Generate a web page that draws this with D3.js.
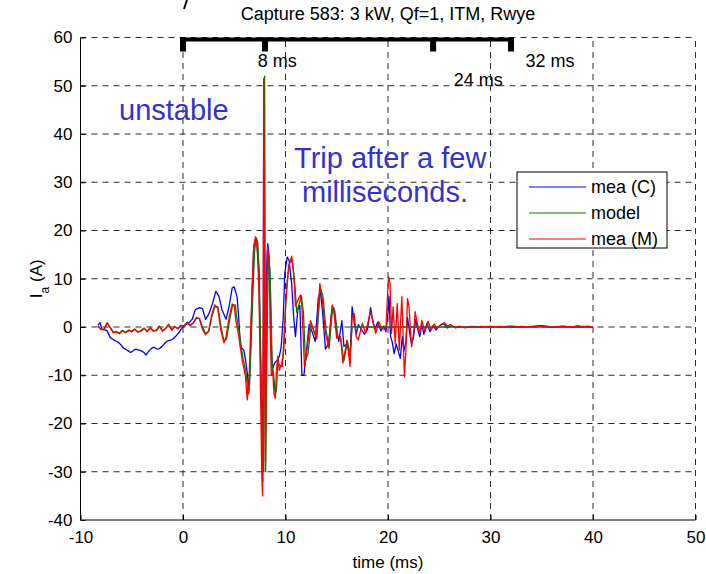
<!DOCTYPE html>
<html>
<head>
<meta charset="utf-8">
<script src="https://cdn.jsdelivr.net/npm/d3@7"></script>
<style>
  html, body { margin: 0; padding: 0; background: #fff; }
  svg { display: block; font-family: "Liberation Sans", Arial, sans-serif; }
</style>
</head>
<body>
<svg id="chart" width="706" height="574"></svg>
<script>
// ---------------- DATA ----------------
const chartTitle = "Capture 583: 3 kW, Qf=1, ITM, Rwye";
const xTicks = [-10, 0, 10, 20, 30, 40, 50];
const yTicks = [-40, -30, -20, -10, 0, 10, 20, 30, 40, 50, 60];
const seriesNames = ["mea (C)", "model", "mea (M)"];
const seriesColors = ["#0000ff", "#008000", "#ff0000"];

// mea (C) - blue
const timeMeaC = [-8.3,-8.1,-7.9,-7.6,-7.4,-7.1,-6.8,-6.6,-6.3,-6.1,-5.8,-5.6,-5.3,-5.1,-4.8,-4.6,-4.3,-4.1,-3.8,-3.6,-3.3,-3.0,-2.8,-2.5,-2.3,-2.0,-1.7,-1.5,-1.2,-1.0,-0.7,-0.4,-0.2,0,0.3,0.6,0.9,1.2,1.6,1.9,2.2,2.5,2.9,3.2,3.5,3.8,4.2,4.5,4.8,5.0,5.28,5.45,5.6,5.93,6.1,6.3,6.42,6.58,6.75,6.9,7.05,7.17,7.4,7.55,7.7,7.78,7.84,7.88,7.93,8.0,8.1,8.2,8.27,8.37,8.47,8.6,8.7,8.93,9.2,9.4,9.58,9.77,9.93,10.16,10.35,10.6,10.8,10.97,11.2,11.4,11.6,11.8,12.0,12.3,12.6,12.9,13.2,13.4,13.6,13.9,14.2,14.5,14.7,15.0,15.2,15.5,15.7,16.0,16.3,16.5,16.7,16.9,17.1,17.4,17.7,18.0,18.3,18.5,18.7,19.0,19.3,19.6,19.8,20.0,20.1,20.25,20.4,20.6,20.8,21.0,21.2,21.4,21.55,21.75,21.9,22.1,22.3,22.5,22.7,22.9,23.1,23.3,23.5,23.8,24.1,24.4,24.7,25.0,25.4,25.8,26.2,26.6,27.0,27.5,28,29,30,31,32,33,34,35,36,37,38,39,40];
const valMeaC = [0.4,0.9,-0.5,-0.6,-0.8,-2.2,-2.6,-2.9,-3.2,-3.6,-4.4,-4.6,-5.0,-5.3,-4.8,-4.6,-4.8,-4.9,-5.3,-5.8,-4.9,-4.3,-4.2,-4.6,-4.5,-3.9,-3.2,-2.9,-2.7,-2.5,-1.9,-1.2,-0.5,0,0.5,0.9,1.6,3.6,4.0,3.8,1.6,2.6,5.0,7.4,6.4,3.6,1.6,4.3,8.1,8.3,6.2,1.5,-4.1,-4.8,-6.8,-10,-13.7,-5.5,8.3,16.6,18.0,18.4,11.8,-5,-19,-32,0,50,20,-10,5,15,17.3,15,11.8,-2,-8.9,-7.5,-6.8,-6.1,-4.1,1.5,11.1,14.5,13.8,9,2,-2.0,3.5,4.5,-10,-10,-6,0.5,-1.0,-3,6,7.5,3.5,-4.6,-3.5,3.0,4.0,-1.0,-3,1.3,-4,-3.5,-6,4.2,1,-1.5,0.5,-0.5,-1.5,-0.5,4.0,1.5,-0.5,1.0,-0.8,0.2,-1.0,3,6.3,-2,-3,-5.5,-3.5,-5,-6.5,-2,-5,-3,2,-1,-3.5,-2,1.5,-0.5,-2.0,0.5,-1.5,0.8,-1.0,0.3,-0.6,0.2,0.7,-0.2,0.3,-0.2,0.1,-0.1,0.1,0,0.1,0,0.2,0,0.1,0.3,0,0.1,0,0.1,0];

// model - green
const timeModel = [-8.3,-8.0,-7.7,-7.4,-7.1,-6.8,-6.5,-6.2,-5.9,-5.6,-5.3,-5.0,-4.7,-4.4,-4.1,-3.8,-3.5,-3.2,-2.9,-2.6,-2.3,-2.0,-1.7,-1.4,-1.1,-0.8,-0.5,-0.2,0.1,0.4,0.7,1.0,1.3,1.6,1.9,2.2,2.5,2.8,3.1,3.4,3.7,4.0,4.25,4.55,4.85,5.1,5.25,5.55,5.85,6.15,6.33,6.5,6.65,6.82,6.98,7.13,7.3,7.45,7.62,7.78,7.88,7.93,7.96,8.0,8.06,8.15,8.25,8.35,8.45,8.55,8.7,8.85,9.0,9.12,9.25,9.4,9.6,9.75,9.92,10.1,10.35,10.65,10.9,11.1,11.35,11.55,11.75,11.95,12.2,12.5,12.8,13.05,13.4,13.65,13.95,14.25,14.6,14.8,15.1,15.4,15.7,16.05,16.3,16.5,16.6,40];
const valModel = [0.2,-0.4,-0.6,0.8,-0.1,-1.0,-1.2,-1.2,-0.7,-1.2,-0.8,-0.8,-0.5,-1.0,-0.9,-0.3,-0.8,-0.3,-0.7,-0.8,0.0,-0.7,-0.4,0.4,-0.5,0.0,-0.3,0.3,0.3,0.9,0.4,0.8,1.8,1.8,0.0,-1.3,-1.0,2.0,4.2,4.2,0.2,-3.0,-2.5,1.5,4.6,4.6,2.0,-2.0,-6.5,-9.5,-14.0,-12.0,-3.0,7.0,15.5,18.5,17.5,10.0,-10.0,-28,-30,10,52,25,-30,-12,5,15,12,7,-8,-10,-14,-13,-7,-8,-8,-6,0,8,13,14,9,3,5,6.5,3,-7,-5.5,0.5,-1.0,-2.5,8.0,6.5,-0.5,-4.5,4.0,3.5,-2.0,-2.5,-7.0,-3.0,-6.0,0.0,0.0,0.0];

// mea (M) - red
const timeMeaM = [-8.3,-8.0,-7.7,-7.4,-7.1,-6.8,-6.5,-6.2,-5.9,-5.6,-5.3,-5.0,-4.7,-4.4,-4.1,-3.8,-3.5,-3.2,-2.9,-2.6,-2.3,-2.0,-1.7,-1.4,-1.1,-0.8,-0.5,-0.2,0.1,0.4,0.7,1.0,1.3,1.6,1.9,2.2,2.5,2.8,3.1,3.4,3.7,4.0,4.2,4.5,4.8,5.0,5.15,5.45,5.77,6.1,6.26,6.42,6.58,6.75,6.9,7.07,7.23,7.4,7.56,7.68,7.76,7.83,7.87,7.92,7.98,8.05,8.12,8.2,8.28,8.4,8.5,8.62,8.75,8.87,9.0,9.12,9.25,9.4,9.55,9.67,9.84,10.0,10.3,10.6,10.8,10.97,11.3,11.46,11.6,11.85,12.1,12.44,12.76,13.0,13.35,13.58,13.9,14.2,14.55,14.7,15.0,15.37,15.6,16.0,16.3,16.5,16.7,16.9,17.1,17.5,17.8,18.3,18.5,18.8,19.1,19.4,19.8,19.9,20.05,20.2,20.35,20.5,20.7,20.9,21.1,21.35,21.6,21.75,21.9,22.05,22.3,22.5,22.65,22.85,23.1,23.3,23.6,23.9,24.2,24.5,24.8,25.1,25.5,25.8,26.1,26.5,27.0,27.5,28.0,28.5,29.0,30,31,32,33,34,35,36,37,38,38.5,39,39.5,40];
const valMeaM = [0.3,-0.6,-0.4,0.9,-0.2,-1.2,-0.9,-1.4,-0.8,-1.1,-0.6,-1.0,-0.4,-1.1,-0.7,-0.2,-1.0,-0.1,-0.9,-0.6,0.2,-0.9,-0.3,0.6,-0.7,0.1,-0.4,0.4,0.2,1.0,0.2,0.9,2.0,1.7,-0.5,-1.6,-0.8,2.5,4.6,3.8,-0.8,-3.3,-2.0,2.0,4.8,4.3,1.5,-2.0,-6.8,-10.3,-15.1,-12.4,-2.0,8.3,16.6,18.7,16.6,8.3,-12.4,-30,-35,5,51.5,30,-10,-28,-10,10,16.5,14,0,-10,-9,-13.7,-14.8,-9,-6,-9,-8,-8.2,-4.6,4.3,12.5,14.7,11.1,4.3,6.0,6.6,4.3,-8.2,-4.6,1.3,-0.8,-2.3,9.0,6.0,-1.2,-4.0,4.6,3.5,-2.3,-2.0,-7.5,-2.7,-8.2,2.1,2.8,-2.0,-2.7,0.8,-1.3,3.2,1.4,-1.3,1.1,-0.3,-0.6,4.2,10.4,9.0,-1.3,4.2,-3.4,4.9,-4.8,6.3,-10.3,-4.8,5.9,4.2,-4.1,-1.3,3.2,0.8,-1.3,1.4,-1.0,1.2,-0.6,0.6,-0.3,0.4,0.9,0.2,0.5,-0.1,0.2,-0.2,0.1,-0.1,0.1,0,0.1,-0.1,0.1,0,0.2,-0.1,0.2,0,0.3,0,0.2,0];

// top annotation bar (ms)
const barStart = 0, barEnd = 32;
const barMarks = [0, 8, 24.4, 32];
const barLabels = [{t: 9.2, text: "8 ms", row: 0}, {t: 28.8, text: "24 ms", row: 1}, {t: 35.8, text: "32 ms", row: 0}];

// ---------------- CHART ----------------
const svg = d3.select("#chart");
const margin = {left: 80.5, right: 10.5, top: 37.5, bottom: 54};
const W = 706, H = 574;
const x = d3.scaleLinear().domain([-10, 50]).range([margin.left, W - margin.right]);
const y = d3.scaleLinear().domain([-40, 60]).range([H - margin.bottom, margin.top]);

const gridColor = "#2a2a2a";
const dash = "6,5";

// grid
const g = svg.append("g");
g.selectAll("line.vg").data(xTicks.filter(d => d > -10)).join("line")
  .attr("x1", d => x(d)).attr("x2", d => x(d))
  .attr("y1", y(-40)).attr("y2", y(60))
  .attr("stroke", gridColor).attr("stroke-width", 1).attr("stroke-dasharray", dash);
g.selectAll("line.hg").data(yTicks.filter(d => d > -40)).join("line")
  .attr("x1", x(-10)).attr("x2", x(50))
  .attr("y1", d => y(d)).attr("y2", d => y(d))
  .attr("stroke", gridColor).attr("stroke-width", 1).attr("stroke-dasharray", dash);

// axes
const xAxis = d3.axisBottom(x).tickValues(xTicks).tickSize(-5).tickPadding(11).tickFormat(d => String(d));
const yAxis = d3.axisLeft(y).tickValues(yTicks).tickSize(-5).tickPadding(8).tickFormat(d => String(d));
const gx = svg.append("g").attr("transform", `translate(0,${y(-40)})`).call(xAxis);
const gy = svg.append("g").attr("transform", `translate(${x(-10)},0)`).call(yAxis);
[gx, gy].forEach(a => {
  a.select(".domain").attr("stroke", "#000").attr("stroke-width", 1);
  a.selectAll(".tick line").attr("stroke", "#000");
  a.selectAll(".tick text").attr("fill", "#000").style("font-size", "17px")
    .style("font-family", "'Liberation Sans', Arial, sans-serif");
});
gx.select(".domain").attr("d", `M${x(-10)},0H${x(50)}`);
gy.select(".domain").attr("d", `M0,${y(-40)}V${y(60)}`);

// series
const line = d3.line().x(d => x(d[0])).y(d => y(d[1]));
const seriesData = [
  d3.zip(timeMeaC, valMeaC),
  d3.zip(timeModel, valModel),
  d3.zip(timeMeaM, valMeaM)
];
svg.append("g").selectAll("path").data(seriesData).join("path")
  .attr("d", line).attr("fill", "none")
  .attr("stroke", (d, i) => seriesColors[i]).attr("stroke-width", 1.3)
  .attr("stroke-linejoin", "round");

// top bar annotation
svg.append("line")
  .attr("x1", x(barStart)).attr("x2", x(barEnd))
  .attr("y1", y(60) + 2).attr("y2", y(60) + 2)
  .attr("stroke", "#000").attr("stroke-width", 4);
svg.selectAll("rect.bm").data(barMarks).join("rect")
  .attr("x", d => x(d) - 3).attr("y", y(60)).attr("width", 6).attr("height", 14).attr("fill", "#000");
svg.selectAll("text.bl").data(barLabels).join("text")
  .attr("x", d => x(d.t)).attr("y", d => d.row === 0 ? 67 : 86)
  .attr("text-anchor", "middle").style("font-size", "18px").attr("fill", "#000")
  .text(d => d.text);

// stray mark at top
svg.append("line").attr("x1", x(0) + 4).attr("y1", 0).attr("x2", x(0) + 1).attr("y2", 9)
  .attr("stroke", "#000").attr("stroke-width", 2);

// title
svg.append("text").attr("x", (x(-10) + x(50)) / 2).attr("y", 20)
  .attr("text-anchor", "middle").style("font-size", "18px").attr("fill", "#000").text(chartTitle);

// axis labels
svg.append("text").attr("x", (x(-10) + x(50)) / 2).attr("y", 568)
  .attr("text-anchor", "middle").style("font-size", "17px").text("time (ms)");
const yl = svg.append("text").attr("transform", `translate(42,${y(10)}) rotate(-90)`)
  .attr("text-anchor", "middle").style("font-size", "17px");
yl.append("tspan").text("I");
yl.append("tspan").attr("baseline-shift", "sub").style("font-size", "12px").text("a");
yl.append("tspan").text(" (A)");

// annotations
const annColor = "#3333cc";
svg.append("text").attr("x", 119).attr("y", 120).style("font-size", "29px").attr("fill", annColor).text("unstable");
svg.append("text").attr("x", 294).attr("y", 168).style("font-size", "29px").attr("fill", annColor).text("Trip after a few");
svg.append("text").attr("x", 302).attr("y", 202).style("font-size", "29px").attr("fill", annColor).text("milliseconds.");

// legend
const lg = svg.append("g").attr("transform", "translate(517,172)");
lg.append("rect").attr("width", 150).attr("height", 76).attr("fill", "#fff").attr("stroke", "#000").attr("stroke-width", 1);
seriesNames.forEach((n, i) => {
  const yy = 15 + i * 26;
  lg.append("line").attr("x1", 12).attr("x2", 69).attr("y1", yy).attr("y2", yy)
    .attr("stroke", seriesColors[i]).attr("stroke-width", 1.1);
  lg.append("text").attr("x", 74).attr("y", yy + 6).style("font-size", "18px").text(n);
});
</script>
</body>
</html>
